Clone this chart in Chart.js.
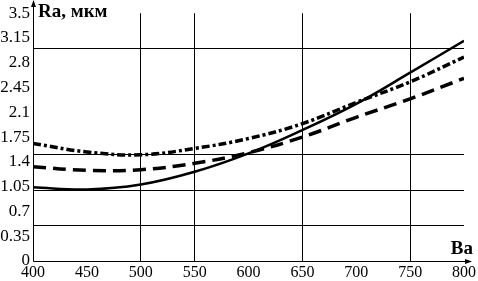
<!DOCTYPE html>
<html>
<head>
<meta charset="utf-8">
<script src="https://cdn.jsdelivr.net/npm/chart.js@4"></script>
<style>
  body { margin: 0; background: #fff; }
</style>
</head>
<body>
<canvas id="chart"></canvas>
<script>
const xValues = [400, 450, 500, 550, 600, 650, 700, 750, 800];
const raSolid = [1.04, 1.01, 1.08, 1.26, 1.52, 1.85, 2.22, 2.66, 3.11];
const raDashed = [1.33, 1.28, 1.29, 1.38, 1.53, 1.75, 2.03, 2.29, 2.58];
const raDashDot = [1.66, 1.54, 1.5, 1.59, 1.73, 1.94, 2.24, 2.53, 2.88];
const yTicks = [0, 0.35, 0.7, 1.05, 1.4, 1.75, 2.1, 2.45, 2.8, 3.15, 3.5];
const xTicks = [400, 450, 500, 550, 600, 650, 700, 750, 800];
const yGridValues = [0.5, 1, 1.5, 3];
const xGridValues = [500, 550, 650, 750];
const yTitle = "Ra, мкм";
const xTitle = "Ba";

const serif = "'Liberation Serif', 'Times New Roman', serif";

const canvas = document.getElementById("chart");
canvas.width = 478;
canvas.height = 281;
const ctx = canvas.getContext("2d");

function toPoints(ys) {
  return xValues.map((x, i) => ({ x: x, y: ys[i] }));
}

// axes with arrows and axis titles
const axisDecor = {
  id: "axisDecor",
  afterDraw(chart) {
    const c = chart.ctx;
    const a = chart.chartArea;
    const x0 = Math.round(chart.scales.x.getPixelForValue(400)) + 0.5;
    const y0 = Math.round(chart.scales.y.getPixelForValue(0)) + 0.5;
    c.save();
    c.strokeStyle = "#000";
    c.fillStyle = "#000";
    c.lineWidth = 1;
    c.beginPath();
    c.moveTo(x0, y0);
    c.lineTo(x0, 1);
    c.moveTo(x0, y0);
    c.lineTo(a.right + 6, y0);
    c.stroke();
    // arrow heads
    c.beginPath();
    c.moveTo(x0, 0);
    c.lineTo(x0 - 2.5, 7);
    c.lineTo(x0 + 2.5, 7);
    c.closePath();
    c.fill();
    c.beginPath();
    c.moveTo(a.right + 8, y0);
    c.lineTo(a.right + 1, y0 - 2.5);
    c.lineTo(a.right + 1, y0 + 2.5);
    c.closePath();
    c.fill();
    c.font = "bold 19px " + serif;
    c.textBaseline = "alphabetic";
    c.textAlign = "left";
    c.fillText(yTitle, 38, 17);
    c.textAlign = "right";
    c.font = "bold 19px " + serif;
    c.fillText(xTitle, 473, 254);
    c.restore();
  },
};

const chart = new Chart(ctx, {
  type: "line",
  data: {
    datasets: [
      {
        label: "solid",
        data: toPoints(raSolid),
        borderColor: "#000",
        borderWidth: 2.5,
        pointRadius: 0,
        tension: 0.4,
        fill: false,
      },
      {
        label: "dashed",
        data: toPoints(raDashed),
        borderColor: "#000",
        borderWidth: 3.5,
        borderDash: [13, 7],
        pointRadius: 0,
        tension: 0.4,
        fill: false,
      },
      {
        label: "dashdot",
        data: toPoints(raDashDot),
        borderColor: "#000",
        borderWidth: 3.5,
        borderDash: [8, 3, 3, 3],
        pointRadius: 0,
        tension: 0.4,
        fill: false,
      },
    ],
  },
  options: {
    responsive: false,
    animation: false,
    layout: { padding: { top: 9, right: 12, left: 0, bottom: 0 } },
    plugins: {
      legend: { display: false },
      tooltip: { enabled: false },
    },
    scales: {
      x: {
        type: "linear",
        min: 400,
        max: 800,
        afterBuildTicks: (s) => { s.ticks = xTicks.map((v) => ({ value: v })); },
        afterFit: (s) => { s.height = 20; },
        ticks: {
          color: "#000",
          padding: 2,
          maxRotation: 0,
          autoSkip: false,
          font: { family: serif, size: 16 },
        },
        grid: {
          drawTicks: false,
          lineWidth: 1,
          color: (c) => (c.tick && xGridValues.includes(c.tick.value) ? "#000" : "rgba(0,0,0,0)"),
        },
        border: { display: false },
      },
      y: {
        type: "linear",
        min: 0,
        max: 3.5,
        afterBuildTicks: (s) => { s.ticks = yTicks.map((v) => ({ value: v })); },
        afterFit: (s) => { s.width = 33; },
        ticks: {
          color: "#000",
          padding: 3,
          autoSkip: false,
          font: { family: serif, size: 17 },
          callback: (v) => String(v),
        },
        grid: { display: false, drawTicks: false },
        border: { display: false },
      },
      yg: {
        type: "linear",
        position: "left",
        min: 0,
        max: 3.5,
        afterBuildTicks: (s) => { s.ticks = yGridValues.map((v) => ({ value: v })); },
        afterFit: (s) => { s.width = 0; },
        ticks: { display: false },
        grid: { color: "#000", lineWidth: 1, drawTicks: false },
        border: { display: false },
      },
    },
  },
  plugins: [axisDecor],
});
</script>
</body>
</html>
